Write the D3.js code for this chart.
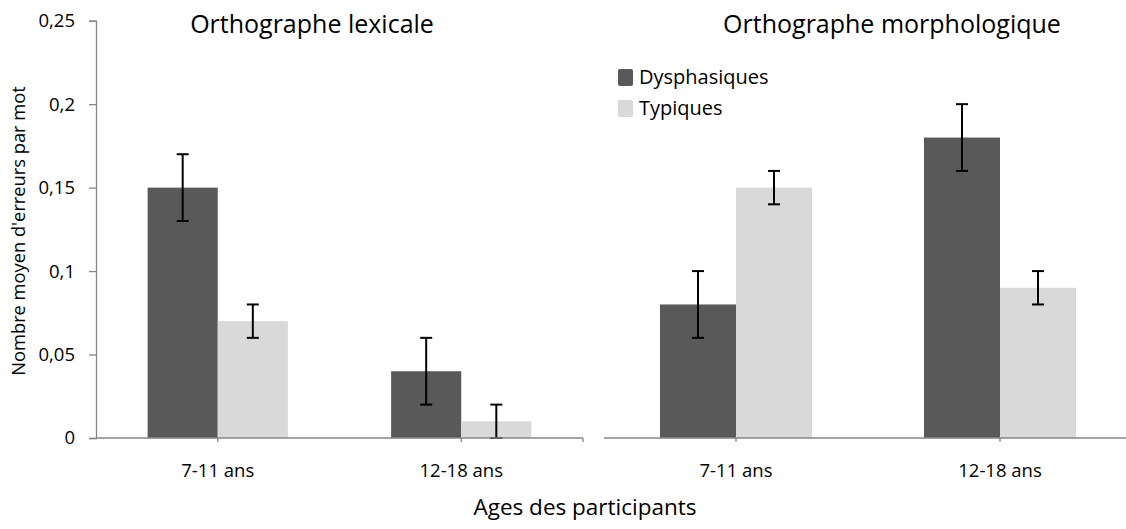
<!DOCTYPE html>
<html>
<head>
<meta charset="utf-8">
<script src="https://cdn.jsdelivr.net/npm/d3@7"></script>
<style>
  body { margin: 0; background: #fff; }
  text { font-family: "Open Sans", "Noto Sans", sans-serif; fill: #000; }
</style>
</head>
<body>
<script>
// data
const ages = ["7-11 ans", "12-18 ans"];
const groups = ["Dysphasiques", "Typiques"];
const panels = ["Orthographe lexicale", "Orthographe morphologique"];
// values per panel: [age][group]
const lexMeans = [[0.15, 0.07], [0.04, 0.01]];
const lexErr = [[0.02, 0.01], [0.02, 0.01]];
const morphMeans = [[0.08, 0.15], [0.18, 0.09]];
const morphErr = [[0.02, 0.01], [0.02, 0.01]];
const yTicks = [0, 0.05, 0.1, 0.15, 0.2, 0.25];

const colors = { Dysphasiques: "#595959", Typiques: "#d9d9d9" };

const width = 1126, height = 529;
const svg = d3.select("body").append("svg").attr("width", width).attr("height", height);

const y = d3.scaleLinear().domain([0, 0.25]).range([438, 20.7]);

// y axis
const yAxis = svg.append("g").attr("transform", "translate(96,0)")
  .call(d3.axisLeft(y).tickValues(yTicks).tickSize(7).tickFormat(d => String(d).replace(".", ",")));
yAxis.select(".domain").attr("stroke", "#868686").attr("stroke-width", 1.3);
yAxis.selectAll(".tick line").attr("stroke", "#868686").attr("stroke-width", 1.3);
yAxis.selectAll(".tick text").attr("font-size", 18.5).attr("x", -21)
  .style("font-family", "'Open Sans', sans-serif").attr("fill", "#000");

svg.append("text")
  .attr("transform", "translate(25,231) rotate(-90)")
  .attr("text-anchor", "middle").attr("font-size", 18.3)
  .text("Nombre moyen d'erreurs par mot");

const panelDefs = [
  { title: panels[0], means: lexMeans, err: lexErr, range: [96, 583], titleX: 312 },
  { title: panels[1], means: morphMeans, err: morphErr, range: [604, 1132], titleX: 892 }
];

panelDefs.forEach(p => {
  const x0 = d3.scaleBand().domain(ages).range(p.range).paddingInner(0).paddingOuter(0);
  const bw = x0.bandwidth() * 0.288;
  const x1 = d3.scaleBand().domain(groups).range([0, bw * 2]);
  const g = svg.append("g");

  g.append("text").attr("x", p.titleX).attr("y", 33)
    .attr("text-anchor", "middle").attr("font-size", 25).text(p.title);

  ages.forEach((age, i) => {
    const cx = x0(age) + x0.bandwidth() / 2;
    groups.forEach((grp, j) => {
      const v = p.means[i][j], e = p.err[i][j];
      const bx = cx - bw + x1(grp);
      g.append("rect")
        .attr("x", bx).attr("y", y(v))
        .attr("width", x1.bandwidth()).attr("height", y(0) - y(v))
        .attr("fill", colors[grp]);
      const ex = bx + x1.bandwidth() / 2;
      const eb = g.append("g").attr("stroke", "#000").attr("stroke-width", 2);
      eb.append("line").attr("x1", ex).attr("x2", ex).attr("y1", y(v + e)).attr("y2", y(v - e));
      eb.append("line").attr("x1", ex - 6).attr("x2", ex + 6).attr("y1", y(v + e)).attr("y2", y(v + e));
      eb.append("line").attr("x1", ex - 6).attr("x2", ex + 6).attr("y1", y(v - e)).attr("y2", y(v - e));
    });
    g.append("text").attr("x", cx).attr("y", 477)
      .attr("text-anchor", "middle").attr("font-size", 18.5).text(age);
  });

  // x axis line with small ticks
  g.append("line").attr("x1", p.range[0]).attr("x2", p.range[1])
    .attr("y1", y(0)).attr("y2", y(0)).attr("stroke", "#868686").attr("stroke-width", 1.3);
  ages.forEach(age => {
    const t = x0(age) + x0.bandwidth() / 2;
    g.append("line").attr("x1", t).attr("x2", t).attr("y1", y(0)).attr("y2", y(0) + 4)
      .attr("stroke", "#868686").attr("stroke-width", 1.3);
  });
  g.append("line").attr("x1", p.range[1]).attr("x2", p.range[1]).attr("y1", y(0)).attr("y2", y(0) + 4)
    .attr("stroke", "#868686").attr("stroke-width", 1.3);
});

// legend
const legend = svg.append("g").attr("transform", "translate(618,69)");
groups.forEach((grp, i) => {
  const lg = legend.append("g").attr("transform", `translate(0,${i * 31})`);
  lg.append("rect").attr("width", 15).attr("height", 17).attr("rx", 2).attr("fill", colors[grp]);
  lg.append("text").attr("x", 21).attr("y", 15).attr("font-size", 20).text(grp);
});

svg.append("text").attr("x", 585).attr("y", 515)
  .attr("text-anchor", "middle").attr("font-size", 22.5).text("Ages des participants");
</script>
</body>
</html>
